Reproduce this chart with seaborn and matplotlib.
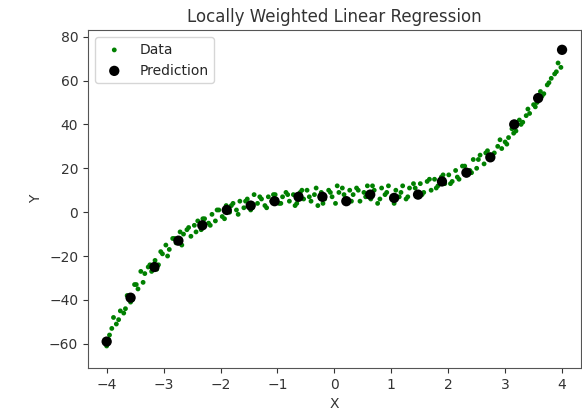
import matplotlib
matplotlib.use("Agg")
import matplotlib.pyplot as plt
import seaborn as sns

# noisy samples
data_x = [-4.00, -3.95, -3.88, -3.83, -3.76, -3.70, -3.64, -3.58, -3.51, -3.45,
          -3.40, -3.33, -3.27, -3.21, -3.15, -3.09, -3.02, -2.96, -2.90, -2.84,
          -2.78, -2.71, -2.65, -2.59, -2.52, -2.46, -2.40, -2.34, -2.28, -2.21,
          -2.15, -2.09, -2.03, -1.97, -1.90, -1.84, -1.78, -1.72, -1.66, -1.59,
          -1.53, -1.47, -1.41, -1.35, -1.28, -1.22, -1.16, -1.10, -1.04, -0.97,
          -0.91, -0.85, -0.79, -0.72, -0.66, -0.60, -0.54, -0.48, -0.41, -0.35,
          -0.29, -0.23, -0.17, -0.10, -0.04, 0.02, 0.08, 0.14, 0.21, 0.27,
          0.33, 0.39, 0.45, 0.52, 0.58, 0.64, 0.70, 0.76, 0.83, 0.89,
          0.95, 1.01, 1.08, 1.14, 1.20, 1.26, 1.32, 1.39, 1.45, 1.51,
          1.57, 1.63, 1.70, 1.76, 1.82, 1.88, 1.94, 2.01, 2.07, 2.13,
          2.19, 2.25, 2.32, 2.38, 2.44, 2.50, 2.56, 2.63, 2.69, 2.75,
          2.81, 2.87, 2.94, 3.00, 3.06, 3.12, 3.19, 3.25, 3.31, 3.37,
          3.43, 3.50, 3.56, 3.62, 3.68, 3.74, 3.81, 3.87, 3.93, 3.98]
data_y = [-61, -56, -48, -51, -45, -46, -38, -41, -33, -35,
          -27, -28, -25, -27, -22, -24, -19, -15, -17, -12,
          -14, -9, -10, -8, -11, -6, -4, -8, -3, -5,
          -1, -4, 1, -2, 3, 0, 4, 1, 5, 2,
          6, 1, 8, 4, 6, 3, 7, 5, 8, 4,
          7, 9, 5, 8, 4, 9, 6, 10, 5, 8,
          3, 9, 6, 10, 7, 4, 9, 11, 6, 10,
          8, 11, 5, 9, 12, 6, 10, 4, 11, 8,
          12, 6, 10, 7, 12, 6, 11, 13, 8, 13,
          9, 14, 10, 15, 12, 16, 13, 17, 14, 19,
          15, 21, 17, 19, 24, 20, 26, 22, 28, 24,
          27, 30, 29, 32, 34, 38, 37, 42, 41, 44,
          45, 49, 50, 55, 54, 58, 61, 63, 68, 66]

# second batch of samples filling the band
extra_x = [-3.97, -3.91, -3.79, -3.67, -3.55, -3.48, -3.36, -3.24, -3.12, -3.05,
           -2.93, -2.81, -2.68, -2.56, -2.43, -2.31, -2.18, -2.06, -1.93, -1.81,
           -1.69, -1.56, -1.44, -1.31, -1.19, -1.07, -0.94, -0.82, -0.69, -0.57,
           -0.44, -0.32, -0.20, -0.07, 0.05, 0.17, 0.30, 0.42, 0.55, 0.67,
           0.80, 0.92, 1.05, 1.17, 1.29, 1.42, 1.54, 1.67, 1.79, 1.91,
           2.04, 2.16, 2.29, 2.41, 2.53, 2.66, 2.78, 2.91, 3.03, 3.15,
           3.28, 3.40, 3.53, 3.65, 3.77, 3.90]
extra_y = [-58, -53, -49, -44, -40, -33, -32, -24, -26, -18,
           -20, -12, -15, -7, -9, -3, -6, 1, -3, 3,
           -1, 5, 2, 7, 2, 8, 4, 8, 3, 10,
           7, 11, 4, 9, 12, 8, 5, 10, 7, 12,
           6, 9, 4, 9, 7, 11, 8, 15, 11, 17,
           13, 16, 21, 18, 24, 27, 26, 33, 31, 36,
           40, 47, 48, 53, 59, 64]

# locally weighted predictions
pred_x = [-4.00, -3.58, -3.16, -2.74, -2.32, -1.89, -1.47, -1.05, -0.63, -0.21,
          0.21, 0.63, 1.05, 1.47, 1.89, 2.32, 2.74, 3.16, 3.58, 4.00]
pred_y = [-59, -39, -25, -13, -6, 1, 3, 5, 7, 7,
          5, 8, 6.5, 8, 14, 18, 25, 40, 52, 74]

sns.set_style("ticks")
fig, ax = plt.subplots(figsize=(5.82, 4.12), dpi=100)
fig.subplots_adjust(left=0.151, right=0.998, top=0.927, bottom=0.107)

sns.scatterplot(x=data_x + extra_x, y=data_y + extra_y, color="green", s=12,
                edgecolor="none", label="Data", ax=ax)
sns.scatterplot(x=pred_x, y=pred_y, color="black", s=55, edgecolor="none",
                label="Prediction", ax=ax)

ax.set_xlim(-4.33, 4.33)
ax.set_ylim(-71, 83)
ax.set_xticks([-4, -3, -2, -1, 0, 1, 2, 3, 4])
ax.set_yticks([-60, -40, -20, 0, 20, 40, 60, 80])
ax.tick_params(colors="#333333", labelsize=10)
for s in ax.spines.values():
    s.set_color("#555555")
ax.set_title("Locally Weighted Linear Regression", fontsize=12, color="#333333")
ax.set_xlabel("X", color="#333333")
ax.set_ylabel("Y", color="#333333")
ax.legend(loc="upper left", frameon=True)

fig.savefig("out.png", dpi=100)
